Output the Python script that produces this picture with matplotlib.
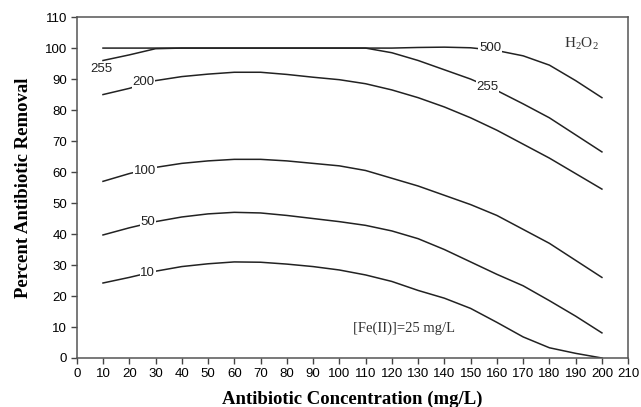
import numpy as np
import matplotlib.pyplot as plt

plt.rcParams['mathtext.fontset'] = 'custom'
plt.rcParams['mathtext.rm'] = 'Liberation Serif'

# antibiotic concentration (mg/L)
conc = [10, 20, 30, 40, 50, 60, 70, 80, 90, 100,
        110, 120, 130, 140, 150, 160, 170, 180, 190, 200]

# percent removal for each H2O2 dose
h2o2_10 = [24.2, 26, 28, 29.5, 30.4, 31, 30.9, 30.3, 29.5, 28.4,
           26.8, 24.7, 21.8, 19.3, 16, 11.5, 6.8, 3.3, 1.5, 0]
h2o2_50 = [39.7, 42, 44, 45.5, 46.5, 47, 46.8, 46, 45, 44,
           42.8, 41, 38.5, 35, 31, 27, 23.3, 18.5, 13.5, 8.1]
h2o2_100 = [57, 59.5, 61.5, 62.8, 63.6, 64.1, 64.1, 63.6, 62.8, 62,
            60.5, 58, 55.5, 52.5, 49.5, 46, 41.5, 37, 31.5, 26]
h2o2_200 = [85, 87, 89.5, 90.8, 91.6, 92.2, 92.2, 91.5, 90.6, 89.8,
            88.5, 86.5, 84, 81, 77.5, 73.5, 69, 64.5, 59.5, 54.5]
h2o2_255 = [96, 97.8, 99.8, 100, 100, 100, 100, 100, 100, 100,
            100, 98.5, 96, 93, 90, 86.3, 82, 77.5, 72, 66.5]
h2o2_500 = [100, 100, 100, 100, 100, 100, 100, 100, 100, 100,
            100, 100, 100.2, 100.3, 100.1, 99.2, 97.5, 94.5, 89.5, 84]

series = [h2o2_10, h2o2_50, h2o2_100, h2o2_200, h2o2_255, h2o2_500]

# inline curve labels: (text, x, y)
curve_labels = [("10", 27, 27.3), ("50", 27, 43.8), ("100", 26, 60.2),
                ("200", 25.5, 89.0), ("500", 157.4, 100.0),
                ("255", 156.5, 87.6)]

fig = plt.figure(figsize=(6.41, 4.07), dpi=100)
ax = fig.add_axes([0.1197, 0.1204, 0.8603, 0.8376])

for ys in series:
    ax.plot(conc, ys, color='#222222', lw=1.1)

for txt, x, y in curve_labels:
    ax.text(x, y, txt, ha='center', va='center', fontsize=9.5,
            family='Liberation Sans', color='#222222',
            bbox=dict(facecolor='white', edgecolor='none', pad=0.5))
# lower-left label for 255 sits below the start of its curve
ax.text(9.3, 93.3, "255", ha='center', va='center', fontsize=9.5,
        family='Liberation Sans', color='#222222')

ax.text(192, 101.3, r'H$_2$O$_2$', ha='center', va='center', fontsize=11,
        family='Liberation Serif', color='#333333')
ax.text(124.5, 9.7, "[Fe(II)]=25 mg/L", ha='center', va='center',
        fontsize=10.5, family='Liberation Serif', color='#333333')

ax.set_xlim(0, 210)
ax.set_ylim(0, 110)
ax.set_xticks(np.arange(0, 211, 10))
ax.set_yticks(np.arange(0, 111, 10))
ax.tick_params(direction='out', length=4, width=1, color='#444444',
               labelsize=9.5, pad=3)
for lab in ax.get_xticklabels() + ax.get_yticklabels():
    lab.set_family('Liberation Sans')
for sp in ax.spines.values():
    sp.set_color('#555555')
    sp.set_linewidth(1.1)

ax.set_xlabel("Antibiotic Concentration (mg/L)", family='Liberation Serif',
              fontweight='bold', fontsize=13.5, labelpad=8)
ax.set_ylabel("Percent Antibiotic Removal", family='Liberation Serif',
              fontweight='bold', fontsize=13.5, labelpad=9)

fig.savefig('out.png', dpi=100)
